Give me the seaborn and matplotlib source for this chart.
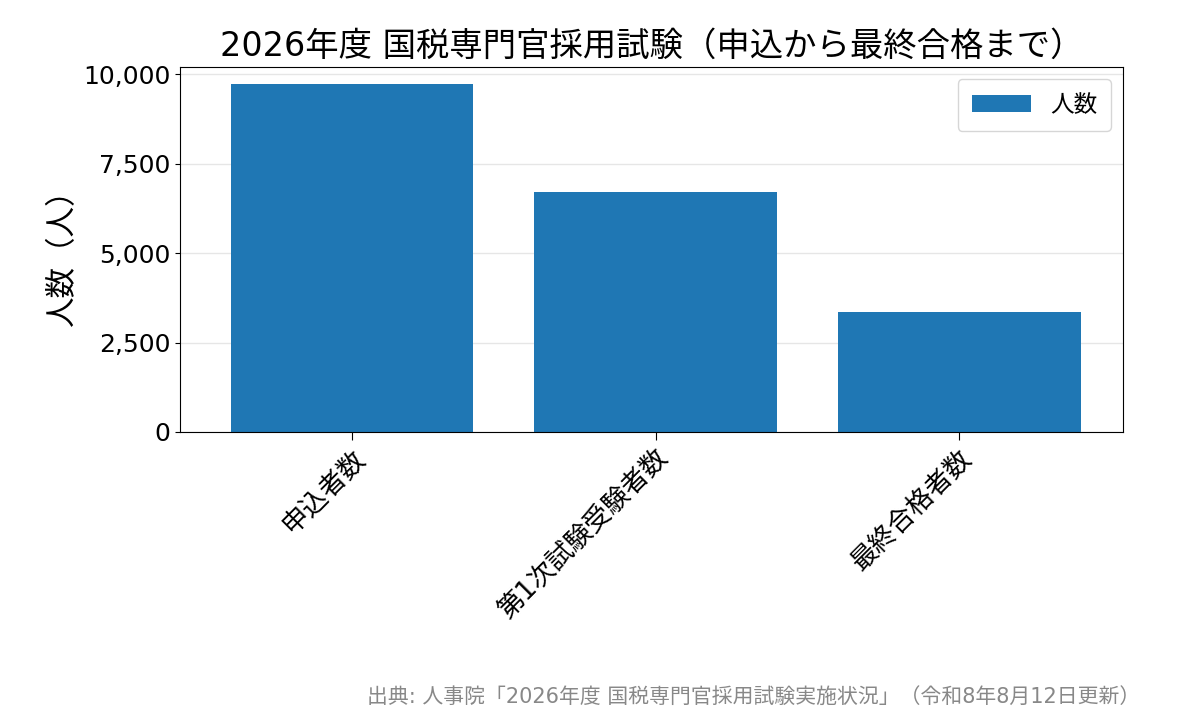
import matplotlib
matplotlib.use("Agg")
import matplotlib.pyplot as plt
import seaborn as sns
import pandas as pd

categories = ["申込者数", "第1次試験受験者数", "最終合格者数"]
values = [9720, 6695, 3365]
yticks = [0, 2500, 5000, 7500, 10000]

sns.set_style("ticks")
plt.rcParams['font.family'] = ['DejaVu Sans', 'Noto Sans CJK JP']
plt.rcParams['text.color'] = 'black'
plt.rcParams['xtick.color'] = 'black'
plt.rcParams['ytick.color'] = 'black'
plt.rcParams['axes.labelcolor'] = 'black'
plt.rcParams['axes.edgecolor'] = 'black'

fig = plt.figure(figsize=(11.87, 7.25), dpi=100)
ax = fig.add_axes([180/1187, 1-432/725, (1123-180)/1187, (432-67)/725])
df = pd.DataFrame({"cat": categories, "val": values})
sns.barplot(data=df, x="cat", y="val", color="#1f77b4", saturation=1, width=0.8,
            linewidth=0, ax=ax, label="人数")
ax.set_xlim(-0.567, 2.54)
ax.set_ylim(0, 10200)
ax.set_yticks(yticks)
ax.set_yticklabels([f"{v:,}" for v in yticks], fontsize=18)
ax.yaxis.grid(True, color="#e6e6e6", linewidth=1)
ax.set_axisbelow(True)
for s in ax.spines.values():
    s.set_visible(True)
ax.set_xlabel("")
ax.set_ylabel("人数（人）", fontsize=22)
plt.setp(ax.get_xticklabels(), rotation=45, ha="right", rotation_mode="anchor", fontsize=19)
ax.tick_params(axis='x', length=6)
ax.legend(loc="upper right", fontsize=17, handlelength=2.5, borderpad=0.6)
ax.set_title("2026年度 国税専門官採用試験（申込から最終合格まで）", fontsize=24, pad=8)
fig.text(1140/1187, 1-697/725, "出典: 人事院「2026年度 国税専門官採用試験実施状況」（令和8年8月12日更新）",
         ha="right", va="center", fontsize=15, color="#888888")
fig.savefig("out.png", dpi=100)
